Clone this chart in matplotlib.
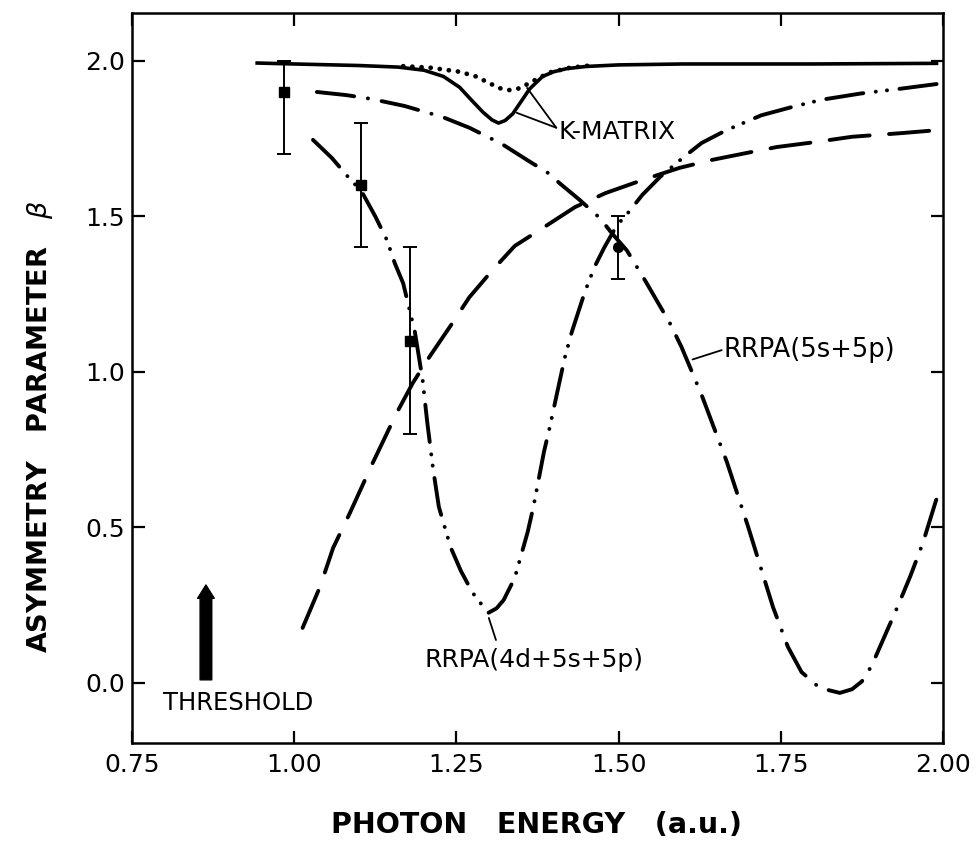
import matplotlib
matplotlib.use('Agg')
import matplotlib.pyplot as plt
from matplotlib.ticker import FormatStrFormatter

plt.rcParams['font.family'] = ['DejaVu Sans']
plt.rcParams['lines.scale_dashes'] = False

# K-matrix, solid curve
kmat_x = [0.943, 1.00, 1.10, 1.16, 1.20, 1.23, 1.255, 1.275, 1.291, 1.305, 1.315,
          1.325, 1.337, 1.350, 1.363, 1.383, 1.40, 1.42, 1.45, 1.50, 1.60, 1.80, 1.99]
kmat_y = [1.993, 1.990, 1.985, 1.980, 1.970, 1.950, 1.915, 1.870, 1.835, 1.810, 1.800,
          1.808, 1.830, 1.870, 1.910, 1.950, 1.965, 1.975, 1.982, 1.987, 1.990, 1.990, 1.992]

# K-matrix, dotted curve
kdot_x = [1.168, 1.21, 1.255, 1.28, 1.306, 1.317, 1.332, 1.348, 1.368, 1.394, 1.425, 1.46]
kdot_y = [1.983, 1.978, 1.965, 1.950, 1.923, 1.912, 1.906, 1.912, 1.935, 1.963, 1.978, 1.986]

# RRPA(5s+5p), dash-dot
r2_x = [1.035, 1.080, 1.118, 1.170, 1.228, 1.270, 1.320, 1.360, 1.391, 1.410, 1.440,
        1.471, 1.490, 1.513, 1.542, 1.579, 1.597, 1.628, 1.667, 1.700, 1.738, 1.761,
        1.782, 1.810, 1.841, 1.860, 1.875, 1.890, 1.910, 1.930, 1.950, 1.969, 1.992]
r2_y = [1.900, 1.890, 1.878, 1.855, 1.820, 1.785, 1.733, 1.680, 1.640, 1.605, 1.553,
        1.495, 1.445, 1.390, 1.290, 1.157, 1.080, 0.926, 0.710, 0.500, 0.244, 0.116,
        0.035, -0.016, -0.032, -0.020, 0.005, 0.055, 0.150, 0.245, 0.345, 0.450, 0.605]

# RRPA(4d+5s+5p), dash-dot-dot
r3_x = [1.029, 1.058, 1.083, 1.104, 1.125, 1.143, 1.155, 1.168, 1.186, 1.198, 1.205,
        1.214, 1.223, 1.241, 1.257, 1.275, 1.299, 1.312, 1.323, 1.340, 1.360, 1.369,
        1.385, 1.394, 1.405, 1.417, 1.428, 1.448, 1.463, 1.478, 1.497, 1.514, 1.537,
        1.564, 1.600, 1.628, 1.664, 1.720, 1.768, 1.813, 1.873, 1.933, 1.992]
r3_y = [1.746, 1.688, 1.627, 1.580, 1.500, 1.424, 1.350, 1.285, 1.129, 0.974, 0.840,
        0.690, 0.566, 0.437, 0.360, 0.290, 0.225, 0.240, 0.267, 0.338, 0.486, 0.569,
        0.743, 0.823, 0.930, 1.045, 1.129, 1.257, 1.338, 1.400, 1.470, 1.510, 1.570,
        1.627, 1.690, 1.736, 1.775, 1.825, 1.852, 1.875, 1.895, 1.910, 1.926]

# long-dash curve
ld_x = [1.013, 1.040, 1.060, 1.086, 1.121, 1.158, 1.183, 1.209, 1.240, 1.270, 1.306,
        1.340, 1.379, 1.433, 1.480, 1.537, 1.594, 1.645, 1.700, 1.744, 1.800, 1.860,
        1.938, 1.995]
ld_y = [0.177, 0.310, 0.434, 0.547, 0.707, 0.868, 0.965, 1.050, 1.145, 1.240, 1.328,
        1.405, 1.457, 1.530, 1.575, 1.617, 1.656, 1.682, 1.705, 1.723, 1.738, 1.756,
        1.768, 1.778]

# experimental points
sq_x = [0.985, 1.103, 1.178]
sq_y = [1.90, 1.60, 1.10]
sq_lo = [0.20, 0.20, 0.30]
sq_hi = [0.10, 0.20, 0.30]
ci_x = [1.499]
ci_y = [1.40]
ci_err = [0.10]

x_ticks = [0.75, 1.00, 1.25, 1.50, 1.75, 2.00]
y_ticks = [0.0, 0.5, 1.0, 1.5, 2.0]

fig = plt.figure(figsize=(9.79, 8.47), dpi=100)
ax = fig.add_axes([0.1348, 0.1228, 0.8284, 0.8619])

ax.plot(kmat_x, kmat_y, color='k', lw=2.6)
ax.plot(kdot_x, kdot_y, color='k', lw=3.4, dashes=[0.1, 6.5], dash_capstyle='round')
ax.plot(r2_x, r2_y, color='k', lw=2.8, dashes=[27, 10, 0.1, 10], dash_capstyle='round')
ax.plot(r3_x, r3_y, color='k', lw=2.8, dashes=[27, 9, 0.1, 8, 0.1, 9],
        dash_capstyle='round')
ax.plot(ld_x, ld_y, color='k', lw=2.8, dashes=[29, 14], dash_capstyle='round')

ax.errorbar(sq_x, sq_y, yerr=[sq_lo, sq_hi], fmt='s', color='k', ms=7,
            capsize=5, elinewidth=1.4, capthick=1.4)
ax.errorbar(ci_x, ci_y, yerr=ci_err, fmt='o', color='k', ms=7,
            capsize=5, elinewidth=1.4, capthick=1.4)

# labels with pointer lines
lkw = dict(arrowprops=dict(arrowstyle='-', color='k', lw=1.3, shrinkA=0, shrinkB=0))
ax.annotate('', xy=(1.343, 1.833), xytext=(1.404, 1.785), **lkw)
ax.annotate('', xy=(1.359, 1.913), xytext=(1.404, 1.785), **lkw)
ax.text(1.408, 1.772, 'K-MATRIX', fontsize=18, va='center', ha='left')
ax.annotate('', xy=(1.614, 1.04), xytext=(1.659, 1.07), **lkw)
ax.text(1.661, 1.07, 'RRPA(5s+5p)', fontsize=18.5, va='center', ha='left')
ax.annotate('', xy=(1.300, 0.209), xytext=(1.311, 0.138), **lkw)
ax.text(1.2015, 0.074, 'RRPA(4d+5s+5p)', fontsize=18, va='center', ha='left')

ax.annotate('', xy=(0.864, 0.315), xytext=(0.864, 0.01),
            arrowprops=dict(arrowstyle='simple,head_width=1.0,head_length=0.8,tail_width=0.7',
                            color='k', shrinkA=0, shrinkB=0, mutation_scale=12))
ax.text(0.798, -0.065, 'THRESHOLD', fontsize=17.5, va='center', ha='left')

ax.set_xlim(0.75, 2.0)
ax.set_ylim(-0.193, 2.154)
ax.set_xticks(x_ticks)
ax.set_yticks(y_ticks)
ax.xaxis.set_major_formatter(FormatStrFormatter('%.2f'))
ax.yaxis.set_major_formatter(FormatStrFormatter('%.1f'))
ax.tick_params(direction='in', length=9, width=1.6, top=True, right=True,
               labelsize=18)
ax.tick_params(axis='x', pad=7)
ax.tick_params(axis='y', pad=5)
for s in ax.spines.values():
    s.set_linewidth(1.8)

fig.text(0.548, 0.026, 'PHOTON   ENERGY   (a.u.)', fontsize=20.5, fontweight='bold',
         ha='center', va='center')
fig.text(0.041, 0.497, r'ASYMMETRY   PARAMETER   $\beta$', fontsize=19.5,
         fontweight='bold', rotation=90, ha='center', va='center')

fig.savefig('out.png', dpi=100)
